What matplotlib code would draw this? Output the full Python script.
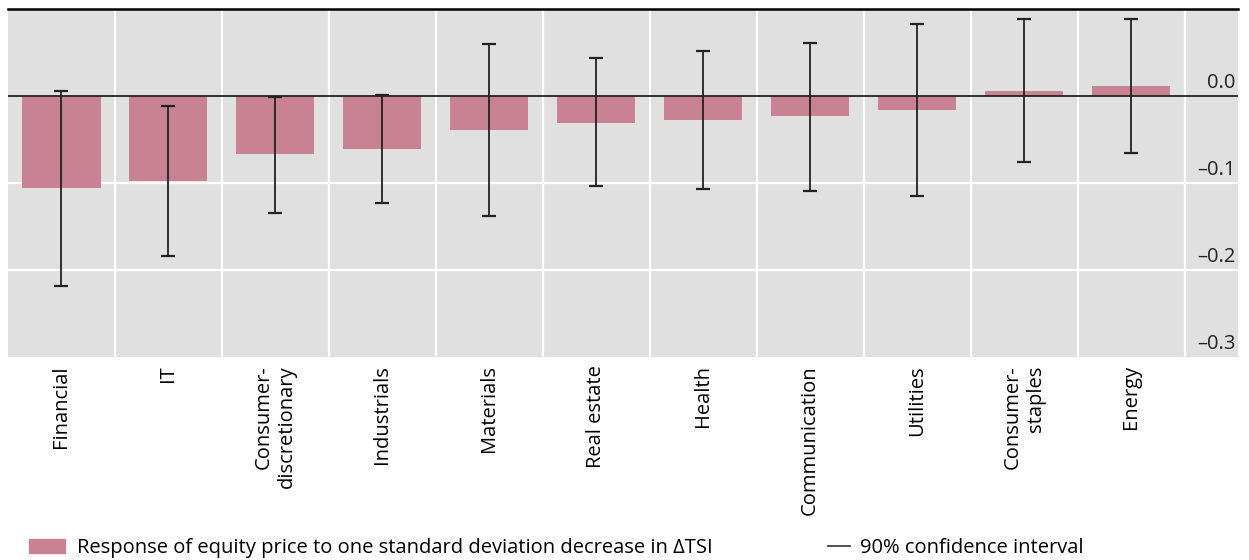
import matplotlib
matplotlib.use("Agg")
import matplotlib.pyplot as plt
import numpy as np
from matplotlib.patches import Patch
from matplotlib.lines import Line2D

plt.rcParams['font.family'] = ['Open Sans', 'DejaVu Sans']

# data
sectors = [
    "Financial", "IT", "Consumer-\ndiscretionary", "Industrials",
    "Materials", "Real estate", "Health", "Communication",
    "Utilities", "Consumer-\nstaples", "Energy"
]
response = [-0.106, -0.098, -0.067, -0.061, -0.039, -0.031,
            -0.028, -0.023, -0.016, 0.006, 0.011]
ci_upper = [0.006, -0.012, -0.001, 0.0015, 0.060, 0.044,
            0.052, 0.061, 0.083, 0.088, 0.0885]
ci_lower = [-0.218, -0.184, -0.134, -0.123, -0.138, -0.103,
            -0.107, -0.109, -0.115, -0.0755, -0.0655]
yticks = [0.0, -0.1, -0.2, -0.3]

bar_color = "#c98293"
bg_color = "#e0e0e0"

response = np.array(response)
err_low = response - np.array(ci_lower)
err_high = np.array(ci_upper) - response

fig = plt.figure(figsize=(12.49, 5.6), dpi=100)
ax = fig.add_axes([8 / 1249, 1 - 357 / 560, 1230 / 1249, 348 / 560])
ax.set_facecolor(bg_color)

x = np.arange(len(sectors))

# white grid
for b in np.arange(0.5, len(sectors), 1.0):
    ax.axvline(b, color="white", lw=1.6, zorder=1)
for v in yticks[1:3]:
    ax.axhline(v, color="white", lw=1.6, zorder=1)

ax.bar(x, response, width=0.73, color=bar_color, zorder=2)
ax.axhline(0, color="#222222", lw=1.3, zorder=3)
ax.errorbar(x, response, yerr=[err_low, err_high], fmt="none",
            ecolor="#222222", elinewidth=1.3, capsize=5, capthick=1.6,
            zorder=4)

ax.set_xlim(-0.5, len(sectors))
ax.set_ylim(-0.3, 0.1)

for s in ["left", "right", "bottom"]:
    ax.spines[s].set_visible(False)
ax.spines["top"].set_color("black")
ax.spines["top"].set_linewidth(1.8)

ax.set_yticks([])
ax.set_xticks(x)
ax.set_xticklabels(sectors, rotation=90, ha="center", va="top",
                   multialignment="right", fontsize=14.5)
ax.tick_params(axis="x", length=0, pad=6)

# y labels inside the right margin column
for v in yticks:
    ax.text(len(sectors) - 0.02, v + 0.004, f"{v:.1f}".replace("-", "\u2013"),
            ha="right", va="bottom", fontsize=14.5, color="#222222")

# legend
fig.legend(handles=[Patch(color=bar_color)],
           labels=["Response of equity price to one standard deviation decrease in \u0394TSI"],
           loc="center left", bbox_to_anchor=(11 / 1249, 1 - 548 / 560),
           frameon=False, fontsize=14.5, handlelength=1.8,
           handleheight=0.7, handletextpad=0.6)
fig.legend(handles=[Line2D([], [], color="#444444", lw=1.3)],
           labels=["90% confidence interval"],
           loc="center left", bbox_to_anchor=(810 / 1249, 1 - 548 / 560),
           frameon=False, fontsize=14.5, handlelength=1.1,
           handletextpad=0.5)

fig.savefig("out.png", dpi=100)
